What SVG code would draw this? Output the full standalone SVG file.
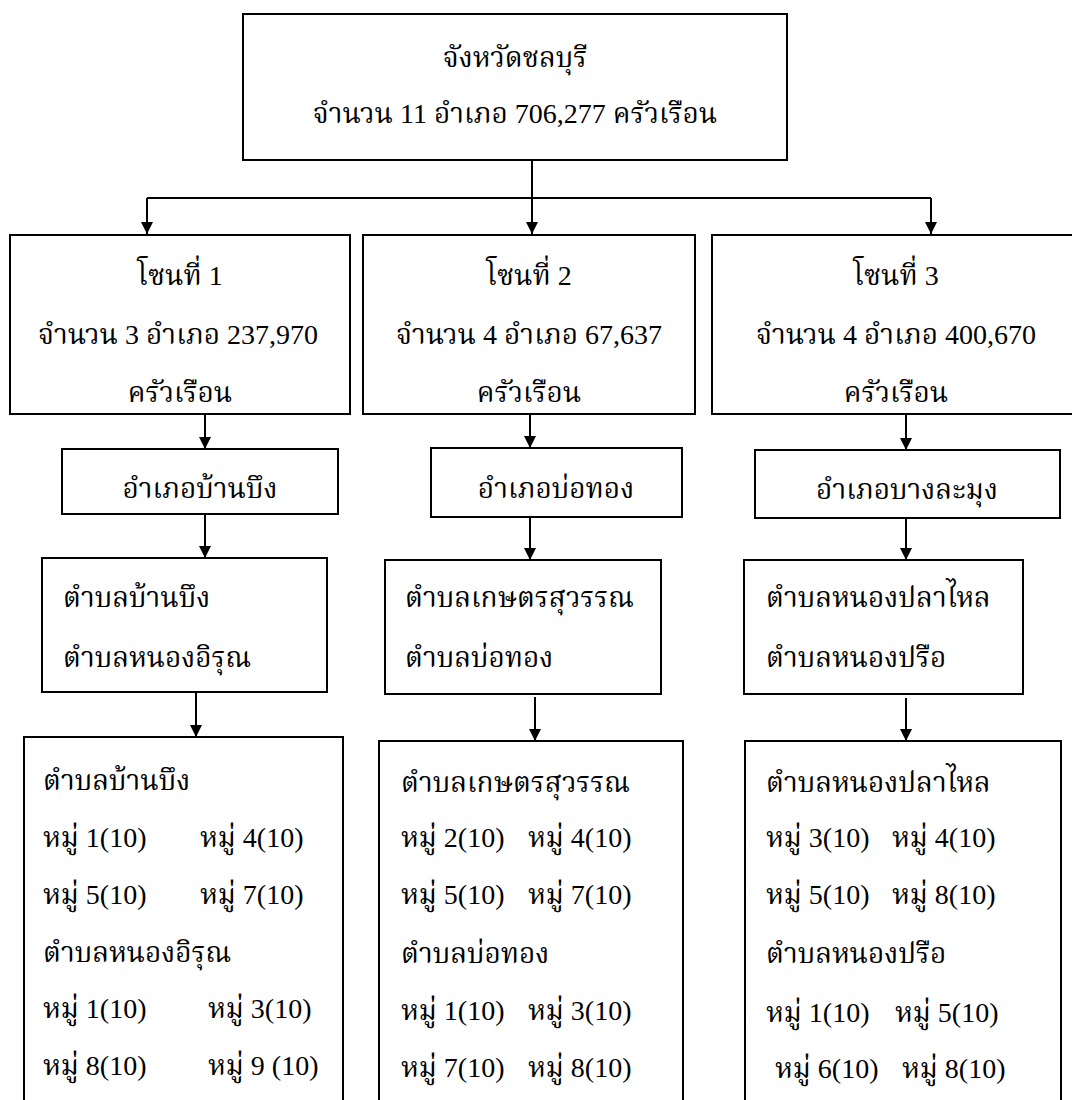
<svg xmlns="http://www.w3.org/2000/svg" width="1072" height="1100" viewBox="0 0 1072 1100">
<style>
.box{fill:#fff;stroke:#000;stroke-width:2}
.t{font-family:"Liberation Serif","Noto Serif Thai","Noto Sans Thai","DejaVu Serif",serif;font-size:28px;fill:#000}
.c{text-anchor:middle}
.ln{fill:none;stroke:#000;stroke-width:2}
</style>
<defs>
<marker id="ah" markerUnits="userSpaceOnUse" markerWidth="12" markerHeight="16" refX="12" refY="8" orient="auto" viewBox="0 0 12 16">
<path d="M0,2 L12,8 L0,14 Z" fill="#000"/>
</marker>
</defs>
<rect width="1072" height="1100" fill="#fff"/>
<g id="connectors">
<path class="ln" d="M532,160 V234" marker-end="url(#ah)"/>
<path class="ln" d="M147,198 H931"/>
<path class="ln" d="M147,198 V234" marker-end="url(#ah)"/>
<path class="ln" d="M931,198 V234" marker-end="url(#ah)"/>
<path class="ln" d="M205,414 V449" marker-end="url(#ah)"/>
<path class="ln" d="M530,414 V448" marker-end="url(#ah)"/>
<path class="ln" d="M906,414 V450" marker-end="url(#ah)"/>
<path class="ln" d="M205,514 V558" marker-end="url(#ah)"/>
<path class="ln" d="M530,517 V560" marker-end="url(#ah)"/>
<path class="ln" d="M906,518 V560" marker-end="url(#ah)"/>
<path class="ln" d="M196,692 V737" marker-end="url(#ah)"/>
<path class="ln" d="M535,697 V741" marker-end="url(#ah)"/>
<path class="ln" d="M906,698 V741" marker-end="url(#ah)"/>
</g>
<g id="province">
<rect class="box" x="243" y="14" width="544" height="146"/>
<text class="t c" x="515" y="67">จังหวัดชลบุรี</text>
<text class="t c" x="515" y="123">จำนวน 11 อำเภอ 706,277 ครัวเรือน</text>
</g>
<g id="zone1">
<rect class="box" x="10" y="235" width="340" height="179"/>
<text class="t c" x="180" y="285">โซนที่ 1</text>
<text class="t c" x="178" y="344">จำนวน 3 อำเภอ 237,970</text>
<text class="t c" x="180" y="402">ครัวเรือน</text>
</g>
<g id="zone2">
<rect class="box" x="363" y="235" width="332" height="179"/>
<text class="t c" x="529" y="285">โซนที่ 2</text>
<text class="t c" x="529" y="344">จำนวน 4 อำเภอ 67,637</text>
<text class="t c" x="529" y="402">ครัวเรือน</text>
</g>
<g id="zone3">
<rect class="box" x="712" y="235" width="368" height="179"/>
<text class="t c" x="896" y="285">โซนที่ 3</text>
<text class="t c" x="896" y="344">จำนวน 4 อำเภอ 400,670</text>
<text class="t c" x="896" y="402">ครัวเรือน</text>
</g>
<g id="amphoe1">
<rect class="box" x="62" y="449" width="276" height="65"/>
<text class="t c" x="200" y="498">อำเภอบ้านบึง</text>
</g>
<g id="amphoe2">
<rect class="box" x="431" y="448" width="251" height="69"/>
<text class="t c" x="556" y="498">อำเภอบ่อทอง</text>
</g>
<g id="amphoe3">
<rect class="box" x="755" y="450" width="305" height="68"/>
<text class="t c" x="907" y="499">อำเภอบางละมุง</text>
</g>
<g id="tambon1">
<rect class="box" x="42" y="558" width="285" height="134"/>
<text class="t" x="63" y="607">ตำบลบ้านบึง</text>
<text class="t" x="63" y="667">ตำบลหนองอิรุณ</text>
</g>
<g id="tambon2">
<rect class="box" x="385" y="560" width="276" height="134"/>
<text class="t" x="405" y="607">ตำบลเกษตรสุวรรณ</text>
<text class="t" x="405" y="667">ตำบลบ่อทอง</text>
</g>
<g id="tambon3">
<rect class="box" x="744" y="560" width="279" height="134"/>
<text class="t" x="766" y="607">ตำบลหนองปลาไหล</text>
<text class="t" x="766" y="667">ตำบลหนองปรือ</text>
</g>
<g id="villages1">
<rect class="box" x="24" y="737" width="319" height="380"/>
<text class="t" x="43" y="790">ตำบลบ้านบึง</text>
<text class="t" y="847"><tspan x="43">หมู่ 1(10)</tspan><tspan x="200">หมู่ 4(10)</tspan></text>
<text class="t" y="904"><tspan x="43">หมู่ 5(10)</tspan><tspan x="200">หมู่ 7(10)</tspan></text>
<text class="t" x="43" y="962">ตำบลหนองอิรุณ</text>
<text class="t" y="1018"><tspan x="43">หมู่ 1(10)</tspan><tspan x="208">หมู่ 3(10)</tspan></text>
<text class="t" y="1075"><tspan x="43">หมู่ 8(10)</tspan><tspan x="208">หมู่ 9 (10)</tspan></text>
</g>
<g id="villages2">
<rect class="box" x="379" y="741" width="304" height="380"/>
<text class="t" x="401" y="792">ตำบลเกษตรสุวรรณ</text>
<text class="t" y="847"><tspan x="401">หมู่ 2(10)</tspan><tspan x="528">หมู่ 4(10)</tspan></text>
<text class="t" y="904"><tspan x="401">หมู่ 5(10)</tspan><tspan x="528">หมู่ 7(10)</tspan></text>
<text class="t" x="401" y="963">ตำบลบ่อทอง</text>
<text class="t" y="1020"><tspan x="401">หมู่ 1(10)</tspan><tspan x="528">หมู่ 3(10)</tspan></text>
<text class="t" y="1077"><tspan x="401">หมู่ 7(10)</tspan><tspan x="528">หมู่ 8(10)</tspan></text>
</g>
<g id="villages3">
<rect class="box" x="745" y="741" width="316" height="380"/>
<text class="t" x="766" y="792">ตำบลหนองปลาไหล</text>
<text class="t" y="847"><tspan x="766">หมู่ 3(10)</tspan><tspan x="892">หมู่ 4(10)</tspan></text>
<text class="t" y="904"><tspan x="766">หมู่ 5(10)</tspan><tspan x="892">หมู่ 8(10)</tspan></text>
<text class="t" x="766" y="963">ตำบลหนองปรือ</text>
<text class="t" y="1022"><tspan x="766">หมู่ 1(10)</tspan><tspan x="895">หมู่ 5(10)</tspan></text>
<text class="t" y="1078"><tspan x="775">หมู่ 6(10)</tspan><tspan x="902">หมู่ 8(10)</tspan></text>
</g>
</svg>
